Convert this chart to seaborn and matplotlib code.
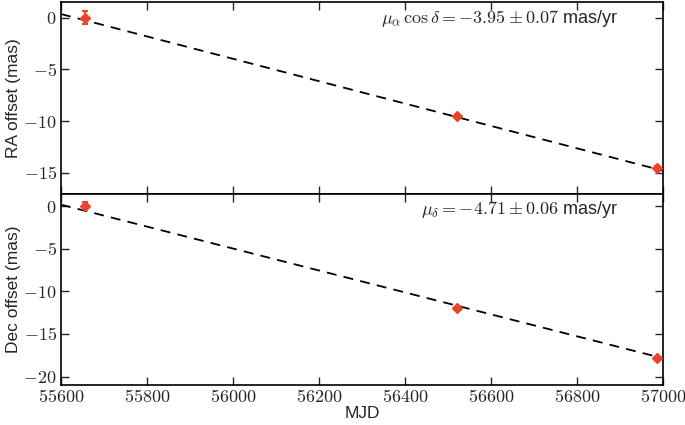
import numpy as np
import pandas as pd
import seaborn as sns
import matplotlib.pyplot as plt
from matplotlib.ticker import FuncFormatter, MultipleLocator

# Astrometric epochs (MJD) and offsets (mas)
mjd = [55655, 56520, 56985]
ra_offset = [0.0, -9.5, -14.5]
ra_err = [0.6, 0.12, 0.12]
dec_offset = [0.1, -12.0, -17.8]
dec_err = [0.45, 0.12, 0.12]

# Fitted proper motions (mas/yr) and line offsets at MJD 55600
mu_ra, mu_ra_err = -3.95, 0.07
mu_dec, mu_dec_err = -4.71, 0.06
ra_zero, dec_zero = 0.35, 0.2
fit_mjd = [55600, 57000]

sns.set_style('ticks')
plt.rcParams['font.family'] = ['Liberation Sans', 'DejaVu Sans']
plt.rcParams['mathtext.fontset'] = 'cm'

pt_color = '#e8452c'

fig, (ax1, ax2) = plt.subplots(2, 1, figsize=(6.85, 4.25), dpi=100, sharex=True)
fig.subplots_adjust(left=0.089, right=0.968, top=0.995, bottom=0.094, hspace=0)

fit_df = pd.DataFrame({
    'MJD': fit_mjd,
    'ra': [ra_zero + mu_ra / 365.25 * (m - fit_mjd[0]) for m in fit_mjd],
    'dec': [dec_zero + mu_dec / 365.25 * (m - fit_mjd[0]) for m in fit_mjd],
})

panels = [
    (ax1, 'ra', ra_offset, ra_err, 'RA offset (mas)', (-17, 1.5),
     r'$\mu_\alpha\,\cos\delta = %.2f \pm %.2f$ mas/yr' % (mu_ra, mu_ra_err)),
    (ax2, 'dec', dec_offset, dec_err, 'Dec offset (mas)', (-21, 1.5),
     r'$\mu_\delta = %.2f \pm %.2f$ mas/yr' % (mu_dec, mu_dec_err)),
]

fmt = FuncFormatter(lambda v, pos: r'$%d$' % v)

for ax, col, vals, errs, label, ylim, note in panels:
    sns.lineplot(data=fit_df, x='MJD', y=col, ax=ax, color='black',
                 lw=1.3, dashes=(5.5, 4), zorder=2)
    ax.errorbar(mjd, vals, yerr=errs, fmt='D', color=pt_color, ms=5,
                mec=pt_color, capsize=2.5, elinewidth=1.5, capthick=1.5, zorder=3)
    ax.set_ylabel(label, fontsize=12.5, labelpad=2)
    ax.set_ylim(*ylim)
    ax.set_xlim(55600, 57000)
    ax.yaxis.set_major_locator(MultipleLocator(5))
    ax.xaxis.set_major_locator(MultipleLocator(200))
    ax.yaxis.set_major_formatter(fmt)
    ax.xaxis.set_major_formatter(fmt)
    ax.tick_params(direction='in', top=True, right=True, length=6,
                   width=1, labelsize=13, pad=3)
    for s in ax.spines.values():
        s.set_linewidth(1.2)
        s.set_color('black')
    ax.text(0.925, 0.915, note, transform=ax.transAxes, ha='right',
            va='center', fontsize=13)
    ax.set_xlabel('')

ax1.tick_params(labelbottom=False)
ax2.set_xlabel('MJD', fontsize=12.5, labelpad=0)

fig.align_ylabels([ax1, ax2])
plt.savefig('out.png', dpi=100)
